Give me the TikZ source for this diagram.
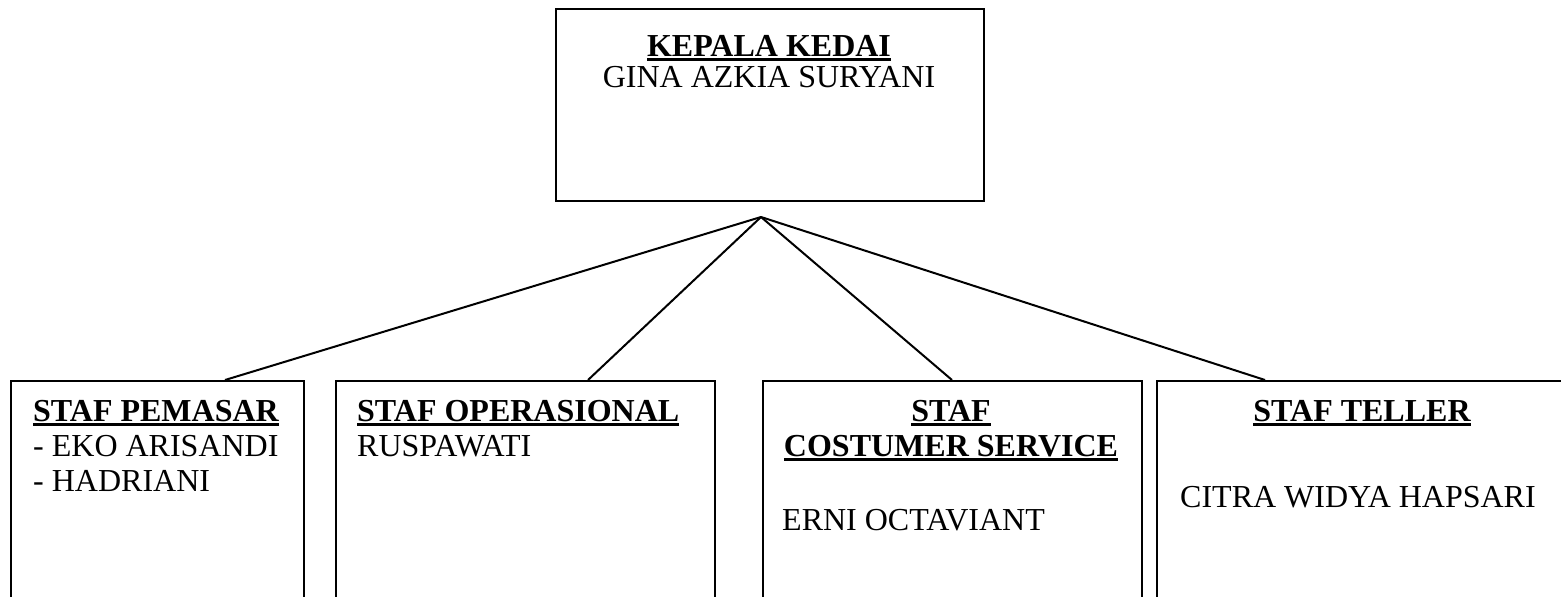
\documentclass[tikz,border=0pt]{standalone}
\usepackage{fontspec}
\setmainfont{Liberation Serif}
\newcommand\myul[1]{\setbox0\hbox{#1}\rlap{\rule[-5pt]{\wd0}{3pt}}\box0}
\begin{document}
\begin{tikzpicture}[x=1pt,y=-1pt,
  font=\fontsize{32}{36}\selectfont,
  box/.style={draw, line width=2pt, anchor=north west, inner sep=0pt},
  txt/.style={inner sep=0pt, anchor=base},
  ltxt/.style={inner sep=0pt, anchor=base west},
  link/.style={line width=2pt}]
\useasboundingbox (0,0) rectangle (1561,597);
% boxes
\node[box, minimum width=428pt, minimum height=192pt] (top) at (555,8) {};
\node[box, minimum width=293pt, minimum height=250pt] (b1) at (10,380) {};
\node[box, minimum width=379pt, minimum height=250pt] (b2) at (335,380) {};
\node[box, minimum width=379pt, minimum height=250pt] (b3) at (762,380) {};
\node[box, minimum width=450pt, minimum height=250pt] (b4) at (1156,380) {};
% texts
\node[txt] (h0) at (769,56) {\bfseries\myul{KEPALA KEDAI}};
\node[txt] (n0) at (769,87) {GINA AZKIA SURYANI};
\node[txt] (h1) at (156,421) {\bfseries\myul{STAF PEMASAR}};
\node[ltxt] (n1a) at (33,456) {- EKO ARISANDI};
\node[ltxt] (n1b) at (33,491) {- HADRIANI};
\node[ltxt] (h2) at (357,421) {\bfseries\myul{STAF OPERASIONAL}};
\node[ltxt] (n2) at (357,456) {RUSPAWATI};
\node[txt] (h3a) at (951,421) {\bfseries\myul{STAF}};
\node[txt] (h3b) at (951,456) {\bfseries\myul{COSTUMER SERVICE}};
\node[ltxt] (n3) at (782,530) {ERNI OCTAVIANT};
\node[txt] (h4) at (1362,421) {\bfseries\myul{STAF TELLER}};
\node[ltxt] (n4) at (1180,507) {CITRA WIDYA HAPSARI};
% connectors
\coordinate (apex) at (761,217);
\coordinate (t1) at (225,380);
\coordinate (t2) at (588,380);
\coordinate (t3) at (952,380);
\coordinate (t4) at (1265,380);
\draw[link] (apex) -- (t1);
\draw[link] (apex) -- (t2);
\draw[link] (apex) -- (t3);
\draw[link] (apex) -- (t4);
\end{tikzpicture}
\end{document}
